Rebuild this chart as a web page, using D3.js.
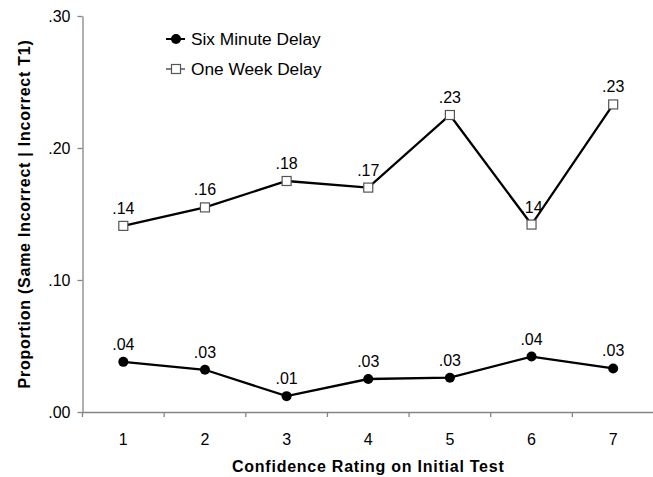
<!DOCTYPE html>
<html>
<head>
<meta charset="utf-8">
<script src="https://cdn.jsdelivr.net/npm/d3@7"></script>
<style>
  body { margin: 0; background: #fff; }
  svg { display: block; font-family: Arial, "Liberation Sans", sans-serif; }
  .axis path, .axis line { stroke: #858585; stroke-width: 1.3px; }
  .axis text { font-size: 16px; fill: #000; }
  .val { font-size: 16px; text-anchor: middle; }
  .label { font-size: 16px; font-weight: bold; text-anchor: middle; letter-spacing: 0.75px; }
  .legend { font-size: 17.3px; }
</style>
</head>
<body>
<div class="chart"></div>
<script>
// data
var ratings = ["1", "2", "3", "4", "5", "6", "7"];
var sixMinute = [0.038, 0.032, 0.012, 0.025, 0.026, 0.042, 0.033];
var sixMinuteLabels = [".04", ".03", ".01", ".03", ".03", ".04", ".03"];
var oneWeek = [0.141, 0.155, 0.175, 0.170, 0.225, 0.142, 0.233];
var oneWeekLabels = [".14", ".16", ".18", ".17", ".23", ".14", ".23"];
var yTicks = [0, 0.10, 0.20, 0.30];

// dimensions
var width = 653, height = 477;
var plot = {left: 82.5, right: 654, top: 16, bottom: 412};

var x = d3.scaleBand()
  .domain(ratings)
  .range([plot.left, plot.right]);
var y = d3.scaleLinear()
  .domain([0, 0.30])
  .range([plot.bottom, plot.top]);

var svg = d3.select(".chart")
  .append("svg")
  .attr("width", width)
  .attr("height", height);

// y axis
svg.append("g")
  .attr("class", "axis")
  .attr("transform", "translate(" + plot.left + ",0)")
  .call(d3.axisLeft(y)
    .tickValues(yTicks)
    .tickSize(5)
    .tickSizeOuter(0)
    .tickPadding(7)
    .tickFormat(function(d) { return d3.format(".2f")(d).replace(/^0/, ""); }));

// x axis (labels at band centres, ticks between bands)
var xAxis = svg.append("g")
  .attr("class", "axis")
  .attr("transform", "translate(0," + plot.bottom + ")")
  .call(d3.axisBottom(x).tickSize(0).tickSizeOuter(0).tickPadding(22));
xAxis.selectAll(".tick line").remove();
xAxis.selectAll(".boundary")
  .data(ratings)
  .enter()
  .append("line")
  .attr("x1", function(d) { return x(d); })
  .attr("x2", function(d) { return x(d); })
  .attr("y1", 0)
  .attr("y2", 5);

// value labels (under the lines, as in the original)
function labels(values, texts) {
  svg.append("g").selectAll("text")
    .data(values)
    .enter()
    .append("text")
    .attr("class", "val")
    .attr("x", function(d, i) { return x(ratings[i]) + x.bandwidth() / 2; })
    .attr("y", function(d) { return y(d) - 12; })
    .text(function(d, i) { return texts[i]; });
}
labels(oneWeek, oneWeekLabels);
labels(sixMinute, sixMinuteLabels);

var line = d3.line()
  .x(function(d, i) { return x(ratings[i]) + x.bandwidth() / 2; })
  .y(function(d) { return y(d); });

svg.append("path")
  .datum(oneWeek)
  .attr("fill", "none")
  .attr("stroke", "#000")
  .attr("stroke-width", 2.3)
  .attr("d", line);
svg.append("path")
  .datum(sixMinute)
  .attr("fill", "none")
  .attr("stroke", "#000")
  .attr("stroke-width", 2.3)
  .attr("d", line);

// markers
svg.selectAll(".sq")
  .data(oneWeek)
  .enter()
  .append("rect")
  .attr("x", function(d, i) { return x(ratings[i]) + x.bandwidth() / 2 - 4.5; })
  .attr("y", function(d) { return y(d) - 4.5; })
  .attr("width", 9)
  .attr("height", 9)
  .attr("fill", "#fff")
  .attr("stroke", "#555")
  .attr("stroke-width", 1.2);
svg.selectAll(".dot")
  .data(sixMinute)
  .enter()
  .append("circle")
  .attr("cx", function(d, i) { return x(ratings[i]) + x.bandwidth() / 2; })
  .attr("cy", function(d) { return y(d); })
  .attr("r", 5)
  .attr("fill", "#000");

// legend
var legend = svg.append("g");
legend.append("line")
  .attr("x1", 166).attr("x2", 185).attr("y1", 39).attr("y2", 39)
  .attr("stroke", "#000").attr("stroke-width", 2);
legend.append("circle")
  .attr("cx", 176).attr("cy", 39).attr("r", 5).attr("fill", "#000");
legend.append("text")
  .attr("class", "legend")
  .attr("x", 191).attr("y", 45)
  .text("Six Minute Delay");
legend.append("line")
  .attr("x1", 166).attr("x2", 185).attr("y1", 69).attr("y2", 69)
  .attr("stroke", "#000").attr("stroke-width", 1);
legend.append("rect")
  .attr("x", 171.5).attr("y", 64.5).attr("width", 9).attr("height", 9)
  .attr("fill", "#fff").attr("stroke", "#555").attr("stroke-width", 1.2);
legend.append("text")
  .attr("class", "legend")
  .attr("x", 191).attr("y", 75)
  .text("One Week Delay");

// axis titles
svg.append("text")
  .attr("class", "label")
  .attr("x", (plot.left + plot.right) / 2)
  .attr("y", 472)
  .text("Confidence Rating on Initial Test");
svg.append("text")
  .attr("class", "label")
  .attr("transform", "translate(30," + ((plot.top + plot.bottom) / 2) + ") rotate(-90)")
  .text("Proportion (Same Incorrect | Incorrect T1)");
</script>
</body>
</html>
